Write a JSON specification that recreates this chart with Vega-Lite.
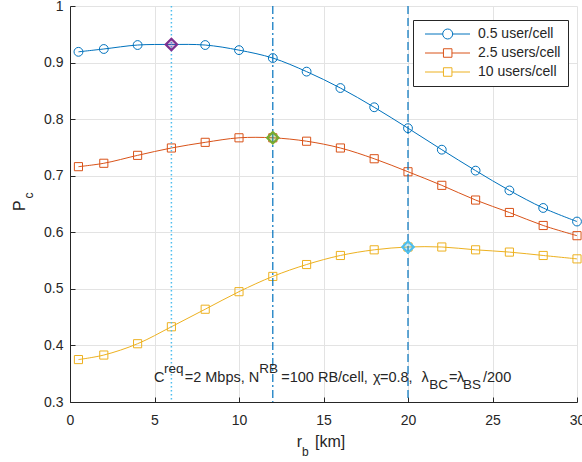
{
  "$schema": "https://vega.github.io/schema/vega-lite/v6.json",
  "width": 507,
  "height": 396,
  "autosize": {"type": "none"},
  "padding": {"left": 70, "top": 6, "right": 5, "bottom": 60},
  "background": "white",
  "config": {
    "view": {"stroke": null},
    "font": "Liberation Sans",
    "axis": {
      "domainColor": "#262626",
      "tickColor": "#262626",
      "labelColor": "#262626",
      "labelFont": "Liberation Sans",
      "labelFontSize": 14,
      "gridColor": "#e3e3e3",
      "gridWidth": 1,
      "tickSize": -5,
      "labelFlush": false,
      "labelOverlap": false
    }
  },
  "datasets": {
    "series": [
      {"r": 0.5, "pc": 0.919, "s": "0.5 user/cell"},
      {"r": 2, "pc": 0.924, "s": "0.5 user/cell"},
      {"r": 4, "pc": 0.931, "s": "0.5 user/cell"},
      {"r": 6, "pc": 0.932, "s": "0.5 user/cell"},
      {"r": 8, "pc": 0.931, "s": "0.5 user/cell"},
      {"r": 10, "pc": 0.922, "s": "0.5 user/cell"},
      {"r": 12, "pc": 0.908, "s": "0.5 user/cell"},
      {"r": 14, "pc": 0.884, "s": "0.5 user/cell"},
      {"r": 16, "pc": 0.855, "s": "0.5 user/cell"},
      {"r": 18, "pc": 0.821, "s": "0.5 user/cell"},
      {"r": 20, "pc": 0.784, "s": "0.5 user/cell"},
      {"r": 22, "pc": 0.746, "s": "0.5 user/cell"},
      {"r": 24, "pc": 0.709, "s": "0.5 user/cell"},
      {"r": 26, "pc": 0.674, "s": "0.5 user/cell"},
      {"r": 28, "pc": 0.643, "s": "0.5 user/cell"},
      {"r": 30, "pc": 0.619, "s": "0.5 user/cell"},
      {"r": 0.5, "pc": 0.716, "s": "2.5 users/cell"},
      {"r": 2, "pc": 0.722, "s": "2.5 users/cell"},
      {"r": 4, "pc": 0.736, "s": "2.5 users/cell"},
      {"r": 6, "pc": 0.749, "s": "2.5 users/cell"},
      {"r": 8, "pc": 0.759, "s": "2.5 users/cell"},
      {"r": 10, "pc": 0.767, "s": "2.5 users/cell"},
      {"r": 12, "pc": 0.767, "s": "2.5 users/cell"},
      {"r": 14, "pc": 0.761, "s": "2.5 users/cell"},
      {"r": 16, "pc": 0.749, "s": "2.5 users/cell"},
      {"r": 18, "pc": 0.730, "s": "2.5 users/cell"},
      {"r": 20, "pc": 0.707, "s": "2.5 users/cell"},
      {"r": 22, "pc": 0.683, "s": "2.5 users/cell"},
      {"r": 24, "pc": 0.657, "s": "2.5 users/cell"},
      {"r": 26, "pc": 0.635, "s": "2.5 users/cell"},
      {"r": 28, "pc": 0.612, "s": "2.5 users/cell"},
      {"r": 30, "pc": 0.594, "s": "2.5 users/cell"},
      {"r": 0.5, "pc": 0.375, "s": "10 users/cell"},
      {"r": 2, "pc": 0.383, "s": "10 users/cell"},
      {"r": 4, "pc": 0.403, "s": "10 users/cell"},
      {"r": 6, "pc": 0.433, "s": "10 users/cell"},
      {"r": 8, "pc": 0.464, "s": "10 users/cell"},
      {"r": 10, "pc": 0.495, "s": "10 users/cell"},
      {"r": 12, "pc": 0.522, "s": "10 users/cell"},
      {"r": 14, "pc": 0.543, "s": "10 users/cell"},
      {"r": 16, "pc": 0.559, "s": "10 users/cell"},
      {"r": 18, "pc": 0.569, "s": "10 users/cell"},
      {"r": 20, "pc": 0.574, "s": "10 users/cell"},
      {"r": 22, "pc": 0.574, "s": "10 users/cell"},
      {"r": 24, "pc": 0.569, "s": "10 users/cell"},
      {"r": 26, "pc": 0.565, "s": "10 users/cell"},
      {"r": 28, "pc": 0.559, "s": "10 users/cell"},
      {"r": 30, "pc": 0.553, "s": "10 users/cell"}
    ],
    "ann": [
      {"t": "C", "x": 4.97, "k": "main"},
      {"t": "req", "x": 5.562, "k": "sup"},
      {"t": "=2 Mbps,", "x": 6.787, "k": "main"},
      {"t": "N", "x": 10.58, "k": "main"},
      {"t": "RB", "x": 11.2, "k": "sup"},
      {"t": "=100 RB/cell,", "x": 12.5, "k": "main"},
      {"t": "χ", "x": 17.929, "k": "main"},
      {"t": "=0.8,", "x": 18.343, "k": "main"},
      {"t": "λ", "x": 20.8, "k": "main"},
      {"t": "BC", "x": 21.25, "k": "sub"},
      {"t": "=", "x": 22.426, "k": "main"},
      {"t": "λ", "x": 22.899, "k": "main"},
      {"t": "BS", "x": 23.254, "k": "sub"},
      {"t": "/200", "x": 24.438, "k": "main"}
    ],
    "xtitle": [
      {"t": "r", "x": 13.41, "k": "main"},
      {"t": "b", "x": 13.73, "k": "sub"},
      {"t": "[km]", "x": 14.5, "k": "main"}
    ]
  },
  "layer": [
    {
      "data": {"name": "series"},
      "mark": {"type": "line", "strokeWidth": 1, "interpolate": "catmull-rom"},
      "encoding": {
        "x": {
          "field": "r", "type": "quantitative",
          "scale": {"domain": [0, 30], "nice": false, "zero": false},
          "axis": {"title": null, "values": [0, 5, 10, 15, 20, 25, 30], "labelPadding": 16}
        },
        "y": {
          "field": "pc", "type": "quantitative",
          "scale": {"domain": [0.3, 1], "nice": false, "zero": false},
          "axis": {"title": null, "values": [0.3, 0.4, 0.5, 0.6, 0.7, 0.8, 0.9, 1], "format": "~g", "labelPadding": 12}
        },
        "color": {
          "field": "s", "type": "nominal",
          "scale": {"domain": ["0.5 user/cell", "2.5 users/cell", "10 users/cell"], "range": ["#0072BD", "#D95319", "#EDB120"]},
          "legend": {
            "title": null,
            "orient": "none",
            "legendX": 343,
            "legendY": 14,
            "padding": 7,
            "rowPadding": 5,
            "strokeColor": "#262626",
            "fillColor": "#ffffff",
            "labelFontSize": 14,
            "labelColor": "#262626",
            "labelFont": "Liberation Sans",
            "labelOffset": 44,
            "symbolSize": 100,
            "symbolStrokeWidth": 1,
            "encode": {
              "symbols": {
                "update": {
                  "shape": {"signal": "datum.value === '0.5 user/cell' ? 'M-0.4,0H3.14M5.14,0H8.6M5.14,0A1,1,0,1,1,3.14,0A1,1,0,1,1,5.14,0Z' : 'M-0.4,0H3.29M4.99,0H8.6M3.29,-0.85H4.99V0.85H3.29Z'"},
                  "fill": {"value": "transparent"},
                  "size": {"value": 100},
                  "strokeWidth": {"value": 1}
                }
              }
            }
          }
        }
      }
    },
    {
      "data": {"name": "series"},
      "transform": [{"filter": "datum.s == '0.5 user/cell'"}],
      "mark": {"type": "point", "shape": "circle", "filled": false, "strokeWidth": 1, "size": 78, "opacity": 1},
      "encoding": {
        "x": {"field": "r", "type": "quantitative"},
        "y": {"field": "pc", "type": "quantitative"},
        "color": {"field": "s", "type": "nominal"}
      }
    },
    {
      "data": {"name": "series"},
      "transform": [{"filter": "datum.s != '0.5 user/cell'"}],
      "mark": {"type": "point", "shape": "square", "filled": false, "strokeWidth": 1, "size": 66, "opacity": 1},
      "encoding": {
        "x": {"field": "r", "type": "quantitative"},
        "y": {"field": "pc", "type": "quantitative"},
        "color": {"field": "s", "type": "nominal"}
      }
    },
    {
      "data": {"values": [{}]},
      "mark": {"type": "rule", "stroke": "#4DBEEE", "strokeWidth": 1.5, "strokeDash": [1.5, 2.5]},
      "encoding": {"x": {"datum": 6, "type": "quantitative"}}
    },
    {
      "data": {"values": [{}]},
      "mark": {"type": "rule", "stroke": "#0072BD", "strokeWidth": 1.2, "strokeDash": [8, 3, 2, 3]},
      "encoding": {"x": {"datum": 12, "type": "quantitative"}}
    },
    {
      "data": {"values": [{}]},
      "mark": {"type": "rule", "stroke": "#0072BD", "strokeWidth": 1.2, "strokeDash": [8, 4]},
      "encoding": {"x": {"datum": 20, "type": "quantitative"}}
    },
    {
      "data": {"values": [{}]},
      "mark": {"type": "point", "shape": "diamond", "size": 130, "stroke": "#7E2F8E", "strokeWidth": 2.2, "fill": "#7E2F8E", "fillOpacity": 0.3, "opacity": 1},
      "encoding": {"x": {"datum": 6, "type": "quantitative"}, "y": {"datum": 0.932, "type": "quantitative"}}
    },
    {
      "data": {"values": [{}]},
      "mark": {"type": "point", "shape": "diamond", "size": 130, "stroke": "#77AC30", "strokeWidth": 2.2, "fill": "#77AC30", "fillOpacity": 0.3, "opacity": 1},
      "encoding": {"x": {"datum": 12, "type": "quantitative"}, "y": {"datum": 0.767, "type": "quantitative"}}
    },
    {
      "data": {"values": [{}]},
      "mark": {"type": "point", "shape": "diamond", "size": 130, "stroke": "#4DBEEE", "strokeWidth": 2.2, "fill": "#4DBEEE", "fillOpacity": 0.3, "opacity": 1},
      "encoding": {"x": {"datum": 20, "type": "quantitative"}, "y": {"datum": 0.574, "type": "quantitative"}}
    },
    {
      "data": {"name": "ann"},
      "transform": [{"filter": "datum.k == 'main'"}],
      "mark": {"type": "text", "align": "left", "baseline": "alphabetic", "fontSize": 14.5, "font": "Liberation Sans", "color": "#262626"},
      "encoding": {"x": {"field": "x", "type": "quantitative"}, "y": {"datum": 0.336, "type": "quantitative"}, "text": {"field": "t"}}
    },
    {
      "data": {"name": "ann"},
      "transform": [{"filter": "datum.k == 'sup'"}],
      "mark": {"type": "text", "align": "left", "baseline": "alphabetic", "fontSize": 13.5, "dy": -8.5, "font": "Liberation Sans", "color": "#262626"},
      "encoding": {"x": {"field": "x", "type": "quantitative"}, "y": {"datum": 0.336, "type": "quantitative"}, "text": {"field": "t"}}
    },
    {
      "data": {"name": "ann"},
      "transform": [{"filter": "datum.k == 'sub'"}],
      "mark": {"type": "text", "align": "left", "baseline": "alphabetic", "fontSize": 13.5, "dy": 7.5, "font": "Liberation Sans", "color": "#262626"},
      "encoding": {"x": {"field": "x", "type": "quantitative"}, "y": {"datum": 0.336, "type": "quantitative"}, "text": {"field": "t"}}
    },
    {
      "data": {"name": "xtitle"},
      "transform": [{"filter": "datum.k == 'main'"}],
      "mark": {"type": "text", "align": "left", "baseline": "alphabetic", "fontSize": 16, "font": "Liberation Sans", "color": "#262626"},
      "encoding": {"x": {"field": "x", "type": "quantitative"}, "y": {"datum": 0.2208, "type": "quantitative"}, "text": {"field": "t"}}
    },
    {
      "data": {"name": "xtitle"},
      "transform": [{"filter": "datum.k == 'sub'"}],
      "mark": {"type": "text", "align": "left", "baseline": "alphabetic", "fontSize": 12, "dy": 8.7, "font": "Liberation Sans", "color": "#262626"},
      "encoding": {"x": {"field": "x", "type": "quantitative"}, "y": {"datum": 0.2208, "type": "quantitative"}, "text": {"field": "t"}}
    },
    {
      "data": {"values": [{}]},
      "mark": {"type": "text", "text": "P", "angle": 270, "align": "left", "baseline": "alphabetic", "fontSize": 16, "font": "Liberation Sans", "color": "#262626"},
      "encoding": {"x": {"datum": -2.66, "type": "quantitative"}, "y": {"datum": 0.6378, "type": "quantitative"}}
    },
    {
      "data": {"values": [{}]},
      "mark": {"type": "text", "text": "c", "angle": 270, "align": "left", "baseline": "alphabetic", "fontSize": 12, "font": "Liberation Sans", "color": "#262626"},
      "encoding": {"x": {"datum": -2.17, "type": "quantitative"}, "y": {"datum": 0.6599, "type": "quantitative"}}
    }
  ]
}
